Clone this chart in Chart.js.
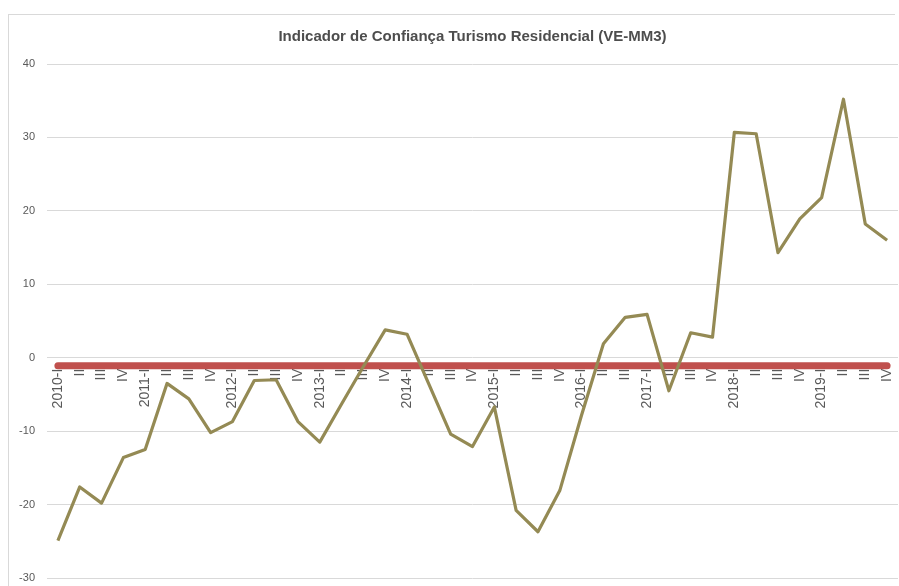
<!DOCTYPE html>
<html>
<head>
<meta charset="utf-8">
<title>Indicador de Confiança Turismo Residencial</title>
<script src="https://cdn.jsdelivr.net/npm/chart.js@4"></script>
<style>
  html, body { margin: 0; padding: 0; background: #ffffff; }
  #frame {
    position: absolute; left: 8px; top: 14px; width: 886px; height: 600px;
    border-left: 1px solid #d9d9d9; border-top: 1px solid #d9d9d9;
  }
  #wrap { position: absolute; left: 0; top: 0; width: 899px; height: 586px; }
</style>
</head>
<body>
<div id="frame"></div>
<div id="wrap"><canvas id="confidenceChart"></canvas></div>
<script>
// Rótulos trimestrais (2016-IV não aparece no gráfico original)
const quarterLabels = [
  "2010-I", "II", "III", "IV",
  "2011-I", "II", "III", "IV",
  "2012-I", "II", "III", "IV",
  "2013-I", "II", "III", "IV",
  "2014-I", "II", "III", "IV",
  "2015-I", "II", "III", "IV",
  "2016-I", "II", "III",
  "2017-I", "II", "III", "IV",
  "2018-I", "II", "III", "IV",
  "2019-I", "II", "III", "IV",
];

// Indicador (VE-MM3)
const indicatorValues = [
  -24.9, -17.6, -19.8, -13.6,
  -12.5, -3.5, -5.6, -10.2,
  -8.7, -3.1, -3.0, -8.7,
  -11.5, -6.3, -1.2, 3.8,
  3.2, -3.6, -10.4, -12.1,
  -6.7, -20.8, -23.7, -18.1,
  -7.8, 1.9, 5.5,
  5.9, -4.5, 3.4, 2.8,
  30.7, 30.5, 14.3, 18.9,
  21.8, 35.2, 18.2, 16.0,
];

// Linha de referência (vermelha)
const referenceValues = [
  -1.1, -1.1, -1.1, -1.1,
  -1.1, -1.1, -1.1, -1.1,
  -1.1, -1.1, -1.1, -1.1,
  -1.1, -1.1, -1.1, -1.1,
  -1.1, -1.1, -1.1, -1.1,
  -1.1, -1.1, -1.1, -1.1,
  -1.1, -1.1, -1.1,
  -1.1, -1.1, -1.1, -1.1,
  -1.1, -1.1, -1.1, -1.1,
  -1.1, -1.1, -1.1, -1.1,
];

// Escala do eixo Y
const yTicks = { min: -30, max: 40, step: 10 };

const chartTitle = "Indicador de Confiança Turismo Residencial (VE-MM3)";

function initChart() {
  const data = {
    labels: quarterLabels,
    datasets: [
      {
        label: "Indicador",
        data: indicatorValues,
        borderColor: "#948a54",
        borderWidth: 3.2,
        borderJoinStyle: "round",
        pointRadius: 0,
        tension: 0,
        fill: false,
        order: 1,
      },
      {
        label: "Referência",
        data: referenceValues,
        borderColor: "#c0504d",
        borderWidth: 7,
        borderCapStyle: "round",
        pointRadius: 0,
        tension: 0,
        fill: false,
        order: 2,
      },
    ],
  };

  const config = {
    type: "line",
    data: data,
    options: {
      responsive: false,
      animation: false,
      layout: { padding: { left: 0, right: 1, top: 0, bottom: 2 } },
      plugins: {
        legend: { display: false },
        tooltip: { enabled: false },
        title: {
          display: true,
          text: chartTitle,
          fullSize: false,
          color: "#4d4d4d",
          font: { family: "'Liberation Sans', Arial, sans-serif", size: 15, weight: "bold" },
          padding: { top: 28, bottom: 18 },
        },
      },
      scales: {
        x: {
          type: "category",
          position: { y: 0 },
          offset: true,
          grid: { display: false, drawTicks: false },
          border: { display: false },
          ticks: {
            autoSkip: false,
            minRotation: 90,
            maxRotation: 90,
            padding: 11,
            color: "#595959",
            font: { family: "'Liberation Sans', Arial, sans-serif", size: 14 },
          },
          afterFit: (scale) => {
            scale.paddingLeft = 0;
            scale.paddingRight = 0;
            scale.paddingTop = 0;
            scale.paddingBottom = 0;
          },
        },
        y: {
          min: yTicks.min,
          max: yTicks.max,
          grid: { color: "#d9d9d9", drawTicks: false },
          border: { display: false },
          ticks: {
            stepSize: yTicks.step,
            padding: 12,
            color: "#595959",
            font: { family: "'Liberation Sans', Arial, sans-serif", size: 11 },
          },
          afterFit: (scale) => {
            scale.width = 47;
            scale.paddingBottom = 8;
          },
        },
      },
    },
  };

  const canvas = document.getElementById("confidenceChart");
  canvas.width = 899;
  canvas.height = 586;
  new Chart(canvas, config);
}

document.addEventListener("DOMContentLoaded", () => {
  initChart();
});
</script>
</body>
</html>
